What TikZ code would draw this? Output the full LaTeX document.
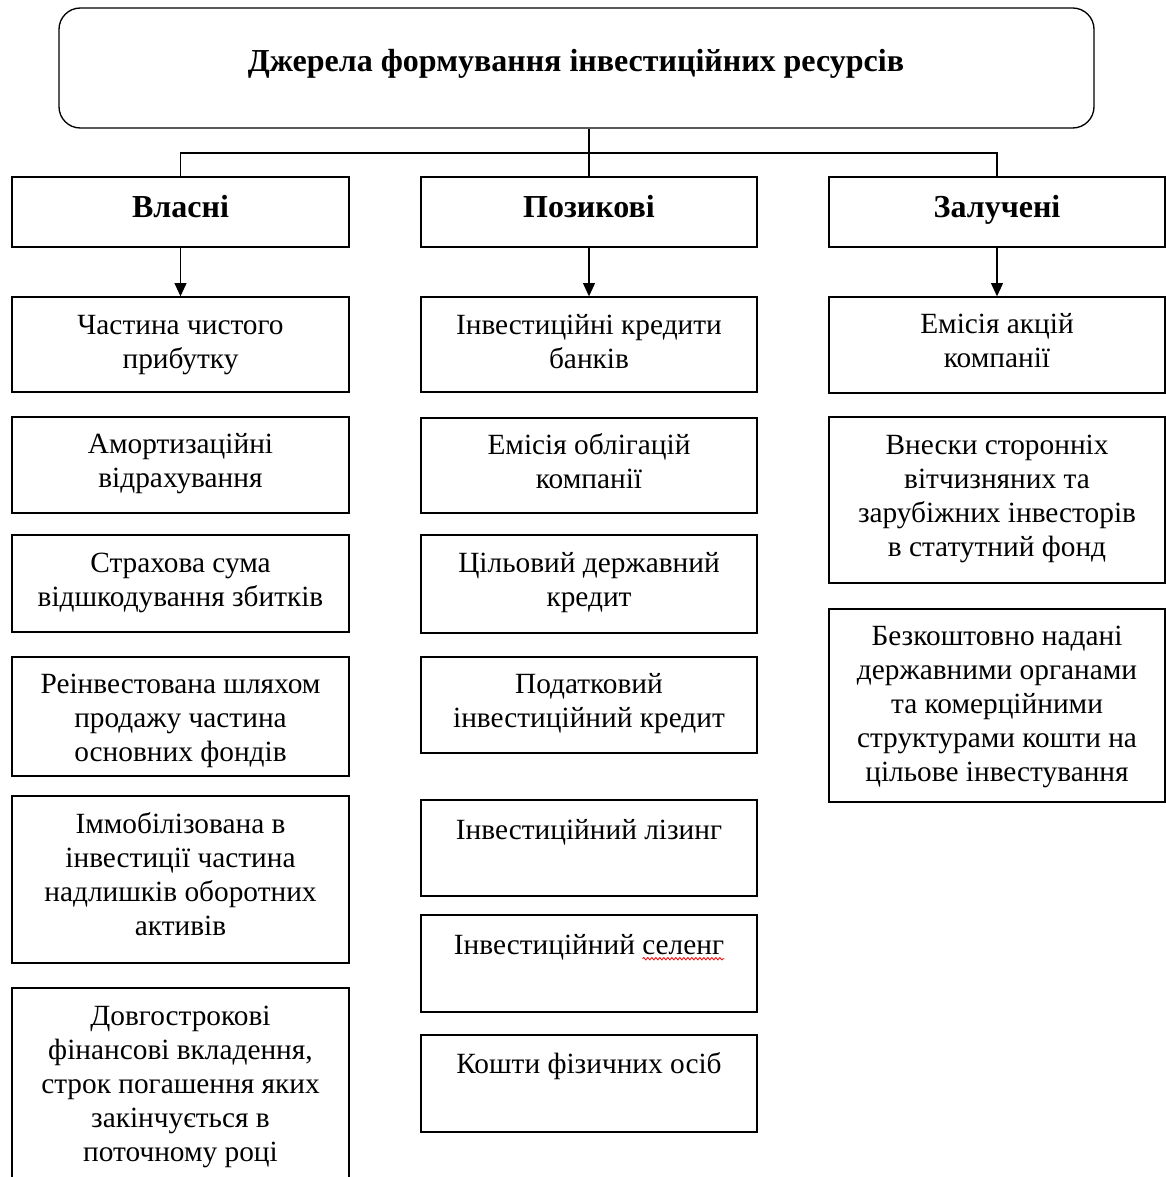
\documentclass[tikz,border=0pt]{standalone}
\usepackage{fontspec}
\setmainfont{Liberation Serif}
\usetikzlibrary{arrows.meta,fit,decorations.pathmorphing}
\newcommand\ml[1]{\begin{tabular}[t]{@{}c@{}}#1\end{tabular}}
\newcommand\bodyfont{\fontsize{22pt}{25.5pt}\selectfont}
\newlength\wordw
\tikzset{
  box/.style={draw=black, line width=1pt, inner sep=0pt, rectangle},
  txt/.style={font=\bodyfont, inner sep=0pt, anchor=base},
  hd/.style={font=\fontsize{24pt}{27pt}\selectfont\bfseries, inner sep=0pt, anchor=base},
  arr/.style={line width=1pt, -{Triangle[length=10pt,width=9pt]}},
  conn/.style={line width=1pt}
}
% name, x1, y1, x2, y2, baseline offset, text
\newcommand\srcbox[7]{%
  \node[box, fit={(#2,#3)(#4,#5)}] (#1) {};
  \node[txt] (#1-t) at ({(#2+#4)/2},{#3+#6}) {\ml{#7}};
}
\begin{document}
\settowidth\wordw{\bodyfont селенг}%
\begin{tikzpicture}[x=0.75pt,y=-0.75pt]
\useasboundingbox (0,0) rectangle (1166,1177);
\clip (0,0) rectangle (1166,1177);
\fill[white] (0,0) rectangle (1166,1177);

% title
\node[box, rounded corners=16pt, fit={(59,8)(1094,128)}] (top) {};
\node[hd] (top-t) at (576,72) {Джерела формування інвестиційних ресурсів};

% headers
\node[box, fit={(12,177)(349,247)}] (vl) {};
\node[hd] (vl-t) at (180.5,217) {Власні};
\node[box, fit={(421,177)(757,247)}] (pz) {};
\node[hd] (pz-t) at (589,217) {Позикові};
\node[box, fit={(829,177)(1165,247)}] (zl) {};
\node[hd] (zl-t) at (997,217) {Залучені};

% connectors from title
\coordinate (bus) at (589,153);
\draw[conn] (top.south -| bus) -- (bus);
\draw[conn] (vl.north) |- (bus) -| (zl.north);
\draw[conn] (bus) -- (pz.north);

% left column
\srcbox{l1}{12}{297}{349}{392}{37}{Частина чистого\\ прибутку}
\srcbox{l2}{12}{417}{349}{513}{36}{Амортизаційні\\ відрахування}
\srcbox{l3}{12}{535}{349}{632}{37}{Страхова сума\\ відшкодування збитків}
\srcbox{l4}{12}{657}{349}{776}{36}{Реінвестована шляхом\\ продажу частина\\ основних фондів}
\srcbox{l5}{12}{796}{349}{963}{37}{Іммобілізована в\\ інвестиції частина\\ надлишків оборотних\\ активів}
\srcbox{l6}{12}{988}{349}{1220}{37}{Довгострокові\\ фінансові вкладення,\\ строк погашення яких\\ закінчується в\\ поточному році}

% middle column
\srcbox{m1}{421}{297}{757}{392}{37}{Інвестиційні кредити\\ банків}
\srcbox{m2}{421}{418}{757}{513}{36}{Емісія облігацій\\ компанії}
\srcbox{m3}{421}{535}{757}{633}{37}{Цільовий державний\\ кредит}
\srcbox{m4}{421}{657}{757}{753}{36}{Податковий\\ інвестиційний кредит}
\srcbox{m5}{421}{800}{757}{896}{39}{Інвестиційний лізинг}
\srcbox{m6}{421}{915}{757}{1012}{39}{Інвестиційний селенг}
\srcbox{m7}{421}{1035}{757}{1132}{38}{Кошти фізичних осіб}

% spell-check squiggle under "селенг"
\draw[red, line width=0.6pt, decorate, decoration={snake, segment length=3pt, amplitude=0.9pt}]
  ([xshift=-\wordw, yshift=-3.5pt]m6-t.base east) -- ([yshift=-3.5pt]m6-t.base east);

% right column
\srcbox{r1}{829}{297}{1165}{393}{36}{Емісія акцій\\ компанії}
\srcbox{r2}{829}{417}{1165}{583}{37}{Внески сторонніх\\ вітчизняних та\\ зарубіжних інвесторів\\ в статутний фонд}
\srcbox{r3}{829}{609}{1165}{802}{36}{Безкоштовно надані\\ державними органами\\ та комерційними\\ структурами кошти на\\ цільове інвестування}

% arrows
\draw[arr] (vl.south) -- (l1.north);
\draw[arr] (pz.south) -- (m1.north);
\draw[arr] (zl.south) -- (r1.north);
\end{tikzpicture}
\end{document}
